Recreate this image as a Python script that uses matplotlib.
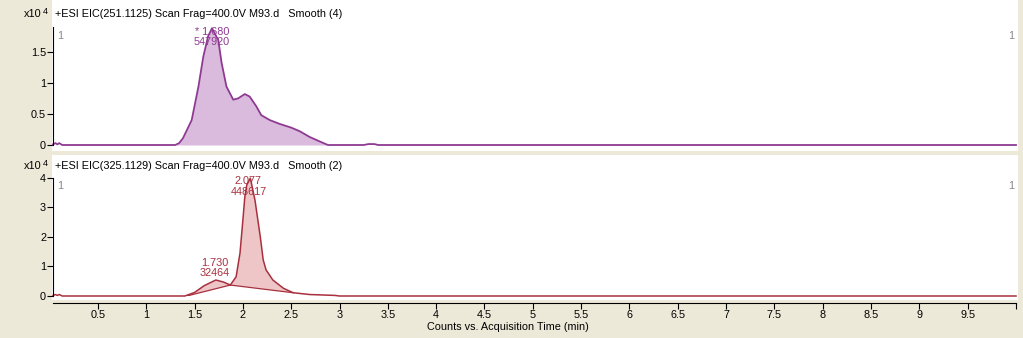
import numpy as np
import matplotlib
matplotlib.use("Agg")
from matplotlib import pyplot as plt
from matplotlib.patches import Rectangle

plt.rcParams["font.family"] = ["Liberation Sans", "DejaVu Sans"]
plt.rcParams["font.size"] = 7.8

# EIC 251.1125 (counts x10^4)
top_t = [0.035, 0.06, 0.08, 0.10, 0.13, 1.30, 1.34, 1.38, 1.47, 1.54, 1.59, 1.64, 1.68,
         1.745, 1.78, 1.83, 1.90, 1.95, 2.02, 2.07, 2.14, 2.19, 2.28, 2.38, 2.50, 2.59,
         2.69, 2.82, 2.88, 3.25, 3.30, 3.36, 3.40, 10.0]
top_y = [0.01, 0.03, 0.01, 0.03, 0.0, 0.0, 0.03, 0.11, 0.40, 0.94, 1.42, 1.75, 1.88,
         1.69, 1.32, 0.94, 0.73, 0.75, 0.82, 0.78, 0.62, 0.48, 0.40, 0.34, 0.28, 0.22,
         0.13, 0.04, 0.0, 0.0, 0.015, 0.015, 0.0, 0.0]
top_peak = (1.680, 1.88, "* 1.680\n547920")

# EIC 325.1129 (counts x10^4)
bot_t = [0.035, 0.06, 0.08, 0.10, 0.13, 1.40, 1.50, 1.60, 1.72, 1.80, 1.87, 1.93, 1.97,
         2.00, 2.02, 2.04, 2.077, 2.125, 2.18, 2.21, 2.24, 2.31, 2.42, 2.52, 2.69, 2.95,
         3.0, 10.0]
bot_y = [0.02, 0.05, 0.02, 0.05, 0.0, 0.0, 0.12, 0.35, 0.54, 0.47, 0.37, 0.65, 1.45,
         2.57, 3.35, 3.75, 3.98, 3.24, 2.0, 1.22, 0.88, 0.54, 0.26, 0.11, 0.05, 0.02,
         0.0, 0.0]
# integration baselines
base1_t = [1.42, 1.87]
base1_y = [0.0, 0.37]
base2_t = [1.87, 2.52]
base2_y = [0.37, 0.11]
bot_peaks = [(1.730, 0.54, "1.730\n32464"), (2.077, 3.98, "2.077\n448617")]

titles = ["+ESI EIC(251.1125) Scan Frag=400.0V M93.d   Smooth (4)",
          "+ESI EIC(325.1129) Scan Frag=400.0V M93.d   Smooth (2)"]
top_ticks = [0, 0.5, 1, 1.5]
bot_ticks = [0, 1, 2, 3, 4]
xticks = np.arange(0.5, 10.01, 0.5)
xlabels = ["%g" % v for v in xticks[:-1]] + [""]

W, H = 1023, 338
bg = "#ECE9D8"
purple, purple_fill = "#8E3A92", "#DABBDE"
red, red_fill = "#A8303E", "#EEC6C8"

fig = plt.figure(figsize=(W / 100, H / 100), dpi=100, facecolor=bg)

def px(x0, y0, x1, y1):
    # pixel box -> figure fraction rect
    return [x0 / W, 1 - y1 / H, (x1 - x0) / W, (y1 - y0) / H]

for box in [(52, 0, 1018, 151), (52, 155, 1018, 300)]:
    r = px(*box)
    fig.patches.append(Rectangle((r[0], r[1]), r[2], r[3], transform=fig.transFigure,
                                 facecolor="white", edgecolor="none", zorder=-1))

ax1 = fig.add_axes(px(53, 27, 1016, 145))
ax2 = fig.add_axes(px(53, 177.6, 1016, 296))

for ax in (ax1, ax2):
    ax.set_facecolor("none")
    ax.set_zorder(1)
    ax.set_xlim(0.035, 10.0)
    for s in ("top", "right", "bottom"):
        ax.spines[s].set_visible(False)
    ax.tick_params(axis="y", direction="out", length=4, width=0.8, pad=1, labelsize=7.8)

# top panel
t1 = np.array(top_t)
y1 = np.array(top_y)
m = (t1 >= 1.30) & (t1 <= 2.88)
ax1.fill_between(t1[m], y1[m], 0, color=purple_fill, lw=0)
ax1.plot(t1, y1, color=purple, lw=1.3, clip_on=False)
ax1.set_ylim(0, 1.9)
ax1.set_yticks(top_ticks)
ax1.set_yticklabels(["0", "0.5", "1", "1.5"])
ax1.set_xticks([])
ax1.text(top_peak[0], top_peak[1] + 0.02, top_peak[2], color=purple, ha="center",
         va="top", linespacing=1.05)

# bottom panel
t2 = np.array(bot_t)
y2 = np.array(bot_y)
for bt, by in [(base1_t, base1_y), (base2_t, base2_y)]:
    m = (t2 > bt[0]) & (t2 < bt[1])
    xs = np.concatenate([[bt[0]], t2[m], [bt[1]]])
    ys = np.concatenate([[by[0]], y2[m], [by[1]]])
    ax2.fill(np.concatenate([xs, bt[::-1]]), np.concatenate([ys, by[::-1]]),
             color=red_fill, lw=0)
    ax2.plot(bt, by, color=red, lw=0.9)
ax2.plot(t2, y2, color=red, lw=1.1, clip_on=False)
ax2.set_ylim(0, 4.0)
ax2.set_yticks(bot_ticks)
ax2.spines["bottom"].set_visible(True)
ax2.spines["bottom"].set_position(("outward", 5))
ax2.set_xticks(xticks)
ax2.set_xticklabels(xlabels)
ax2.tick_params(axis="x", direction="out", length=4, width=0.8, pad=1, labelsize=7.8)
pk, pv, pl = bot_peaks[0]
ax2.text(pk - 0.02, pv + 0.06, pl, color=red, ha="center", va="bottom", linespacing=1.05)
pk, pv, pl = bot_peaks[1]
ax2.text(pk - 0.02, 4.05, pl, color=red, ha="center", va="top", linespacing=1.05)

for ax in (ax1, ax2):
    ax.text(0.004, 0.97, "1", transform=ax.transAxes, color="#888888", ha="left", va="top")
    ax.text(0.998, 0.97, "1", transform=ax.transAxes, color="#888888", ha="right", va="top")

for title, ty in zip(titles, [14, 166]):
    fig.text(55 / W, 1 - ty / H, title, ha="left", va="center")
    fig.text(41 / W, 1 - ty / H, "x10", ha="right", va="center")
    fig.text(43 / W, 1 - (ty - 3) / H, "4", ha="left", va="center", fontsize=6.5)

fig.text(508 / W, 1 - 327 / H, "Counts vs. Acquisition Time (min)", ha="center", va="center")

fig.savefig("out.png", dpi=100, facecolor=bg)
